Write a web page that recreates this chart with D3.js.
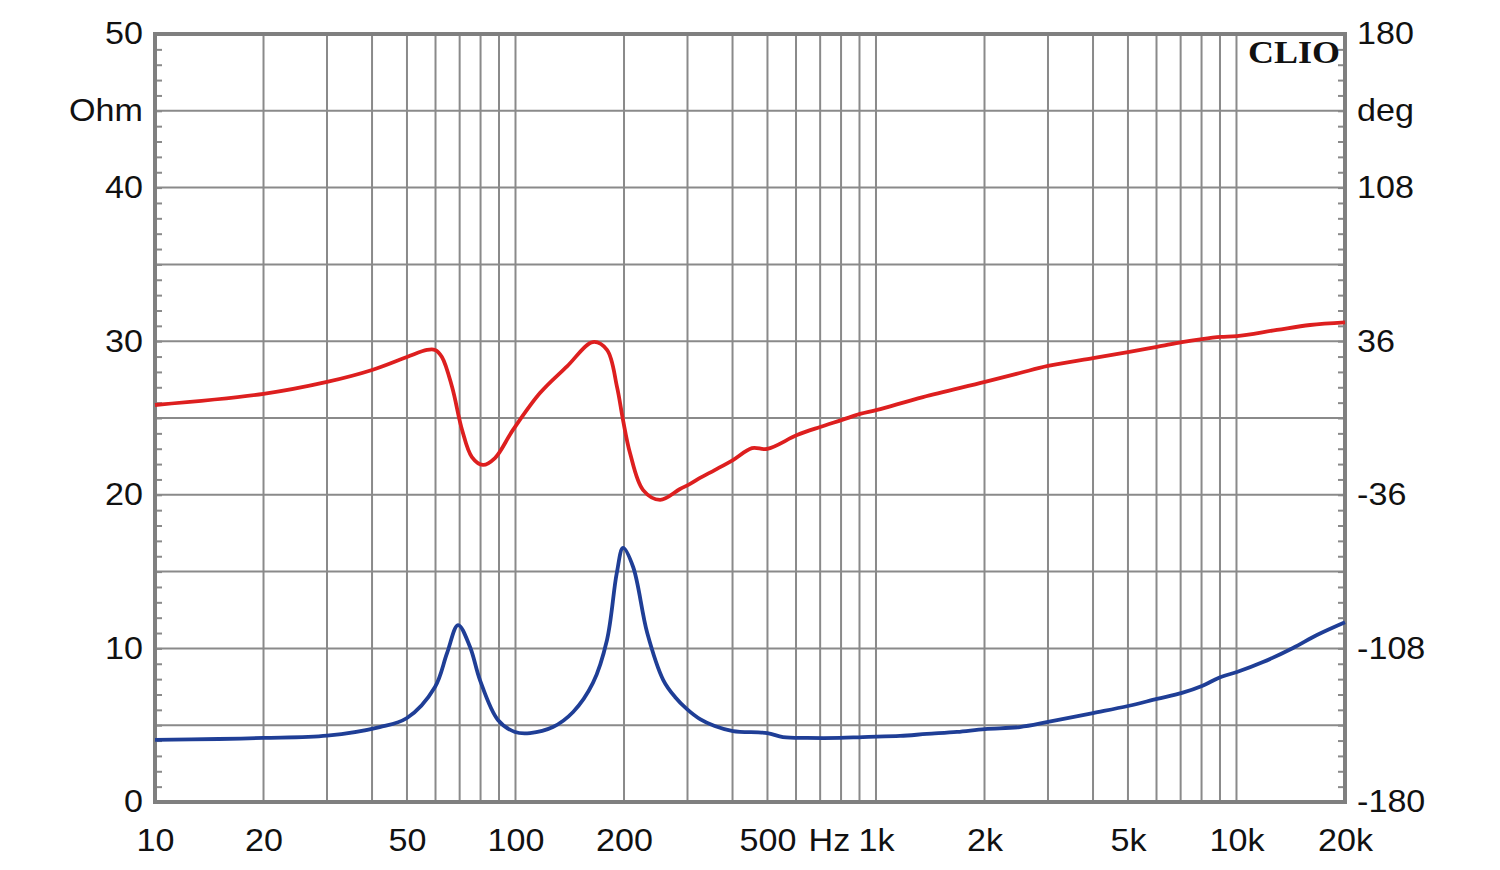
<!DOCTYPE html>
<html>
<head>
<meta charset="utf-8">
<script src="https://cdn.jsdelivr.net/npm/d3@7"></script>
<style>
  html, body { margin: 0; padding: 0; background: #ffffff; }
  svg { display: block; }
</style>
</head>
<body>
<svg id="chart" width="1500" height="870"></svg>
<script>
// ---------- data ----------
// Impedance magnitude (Ohm), left axis
const impFreq = [10, 15, 20, 30, 42, 50, 59.8, 64.6, 69.3, 74.8, 79.7, 89.4, 99.7, 109.7, 127, 144.5, 164, 179.4, 191, 198.8, 212, 232, 257, 277, 299, 325, 357, 401, 499, 552, 644, 794, 920, 1166, 1384, 1678, 2006, 2506, 3000, 4000, 5000, 6015, 7060, 8020, 9050, 10030, 11845, 14350, 16720, 20000];
const impOhm  = [4.04, 4.10, 4.17, 4.32, 4.88, 5.47, 7.49, 9.70, 11.52, 10.09, 7.94, 5.34, 4.56, 4.49, 4.88, 5.86, 7.75, 10.55, 14.91, 16.54, 15.30, 11.00, 7.94, 6.84, 6.05, 5.40, 4.95, 4.62, 4.49, 4.23, 4.17, 4.17, 4.23, 4.30, 4.43, 4.56, 4.75, 4.88, 5.21, 5.79, 6.25, 6.71, 7.10, 7.55, 8.14, 8.46, 9.11, 10.03, 10.87, 11.70];

// Phase (deg), right axis
const phaseFreq = [10, 20, 30, 40, 50, 56.8, 59.8, 62.5, 66.7, 71.1, 75.7, 81.2, 87.7, 98.4, 116.9, 139, 164, 179.4, 191.3, 198.7, 207.8, 226, 251.8, 286, 305, 325, 357, 401, 453, 499, 604, 700, 805, 903, 1007, 1350, 2006, 2506, 3000, 4000, 5000, 6015, 7060, 8020, 9050, 10030, 12950, 16000, 20000];
const phaseDeg  = [6.1, 11.3, 16.9, 22.5, 28.6, 31.9, 31.9, 28.6, 14.5, -5.6, -18.3, -22.0, -18.8, -5.6, 11.7, 24.2, 35.6, 31.9, 14.5, -0.9, -16.4, -33.8, -38.4, -33.3, -30.9, -28.1, -24.4, -19.7, -14.1, -14.5, -8.0, -4.2, -0.9, 1.9, 3.8, 9.8, 16.9, 21.1, 24.4, 28.1, 30.9, 33.3, 35.6, 37.0, 38.0, 38.4, 41.3, 43.6, 44.8];

// Axis ticks & labels
const xTickValues = [10, 20, 50, 100, 200, 500, 740, 1000, 2000, 5000, 10000, 20000];
const xTickLabels = ["10", "20", "50", "100", "200", "500", "Hz", "1k", "2k", "5k", "10k", "20k"];
const xGridValues = [20,30,40,50,60,70,80,90,100,200,300,400,500,600,700,800,900,1000,2000,3000,4000,5000,6000,7000,8000,9000,10000];
const leftTickValues = [0, 10, 20, 30, 40, 45, 50];
const leftTickLabels = ["0", "10", "20", "30", "40", "Ohm", "50"];
const rightTickValues = [-180, -108, -36, 36, 108, 144, 180];
const rightTickLabels = ["-180", "-108", "-36", "36", "108", "deg", "180"];
const yGridValues = [5, 10, 15, 20, 25, 30, 35, 40, 45];
const yMinorTicks = d3.range(1, 50);
const brand = "CLIO";

// ---------- layout ----------
const L = 155, R = 1345, T = 34, B = 802;
const svg = d3.select("#chart");

const x = d3.scaleLog().domain([10, 20000]).range([L, R]);
const yL = d3.scaleLinear().domain([0, 50]).range([B, T]);
const yR = d3.scaleLinear().domain([-180, 180]).range([B, T]);

const gridColor = "#8a8a8a";

// grid
const grid = svg.append("g");
grid.selectAll("line.v").data(xGridValues).enter().append("line")
  .attr("x1", d => x(d)).attr("x2", d => x(d))
  .attr("y1", T).attr("y2", B)
  .attr("stroke", gridColor).attr("stroke-width", 2);
grid.selectAll("line.h").data(yGridValues).enter().append("line")
  .attr("x1", L).attr("x2", R)
  .attr("y1", d => yL(d)).attr("y2", d => yL(d))
  .attr("stroke", gridColor).attr("stroke-width", 2);

// minor ticks (inward) left and right
const minorL = svg.append("g").attr("transform", `translate(${L},0)`)
  .call(d3.axisRight(yL).tickValues(yMinorTicks).tickSize(7).tickFormat(""));
const minorR = svg.append("g").attr("transform", `translate(${R},0)`)
  .call(d3.axisLeft(yL).tickValues(yMinorTicks).tickSize(7).tickFormat(""));
[minorL, minorR].forEach(g => {
  g.select(".domain").remove();
  g.selectAll("line").attr("stroke", gridColor).attr("stroke-width", 2);
});

// frame
svg.append("rect").attr("x", L).attr("y", T).attr("width", R - L).attr("height", B - T)
  .attr("fill", "none").attr("stroke", "#7f7f7f").attr("stroke-width", 4);

// curves
const curve = d3.curveCatmullRom.alpha(0.5);
const lineImp = d3.line().x((d, i) => x(impFreq[i])).y(d => yL(d)).curve(curve);
const linePh = d3.line().x((d, i) => x(phaseFreq[i])).y(d => yR(d)).curve(curve);

svg.append("path").attr("d", linePh(phaseDeg))
  .attr("fill", "none").attr("stroke", "#dd1f1f").attr("stroke-width", 3.8)
  .attr("stroke-linejoin", "round");
svg.append("path").attr("d", lineImp(impOhm))
  .attr("fill", "none").attr("stroke", "#1f3e96").attr("stroke-width", 3.8)
  .attr("stroke-linejoin", "round");

// axes labels
const fs = 31;
const axL = svg.append("g").attr("transform", `translate(${L},0)`)
  .call(d3.axisLeft(yL).tickValues(leftTickValues).tickSize(0).tickPadding(11)
    .tickFormat((d, i) => leftTickLabels[i]));
const axR = svg.append("g").attr("transform", `translate(${R},0)`)
  .call(d3.axisRight(yR).tickValues(rightTickValues).tickSize(0).tickPadding(11)
    .tickFormat((d, i) => rightTickLabels[i]));
const axB = svg.append("g").attr("transform", `translate(0,${B})`)
  .call(d3.axisBottom(x).tickValues(xTickValues).tickSize(0).tickPadding(27)
    .tickFormat((d, i) => xTickLabels[i]));
[axL, axR, axB].forEach(g => {
  g.select(".domain").remove();
  g.selectAll("text")
    .style("font-family", "'Liberation Sans', Arial, sans-serif")
    .style("font-size", fs + "px").style("fill", "#111")
    .attr("transform", "scale(1.1,1)");
});

// brand
svg.append("text").attr("x", 1340).attr("y", 63).attr("text-anchor", "end")
  .style("font-family", "'Liberation Serif', 'DejaVu Serif', serif")
  .style("font-weight", "bold").style("font-size", "32px").style("fill", "#111")
  .attr("textLength", 92).attr("lengthAdjust", "spacingAndGlyphs")
  .text(brand);
</script>
</body>
</html>
